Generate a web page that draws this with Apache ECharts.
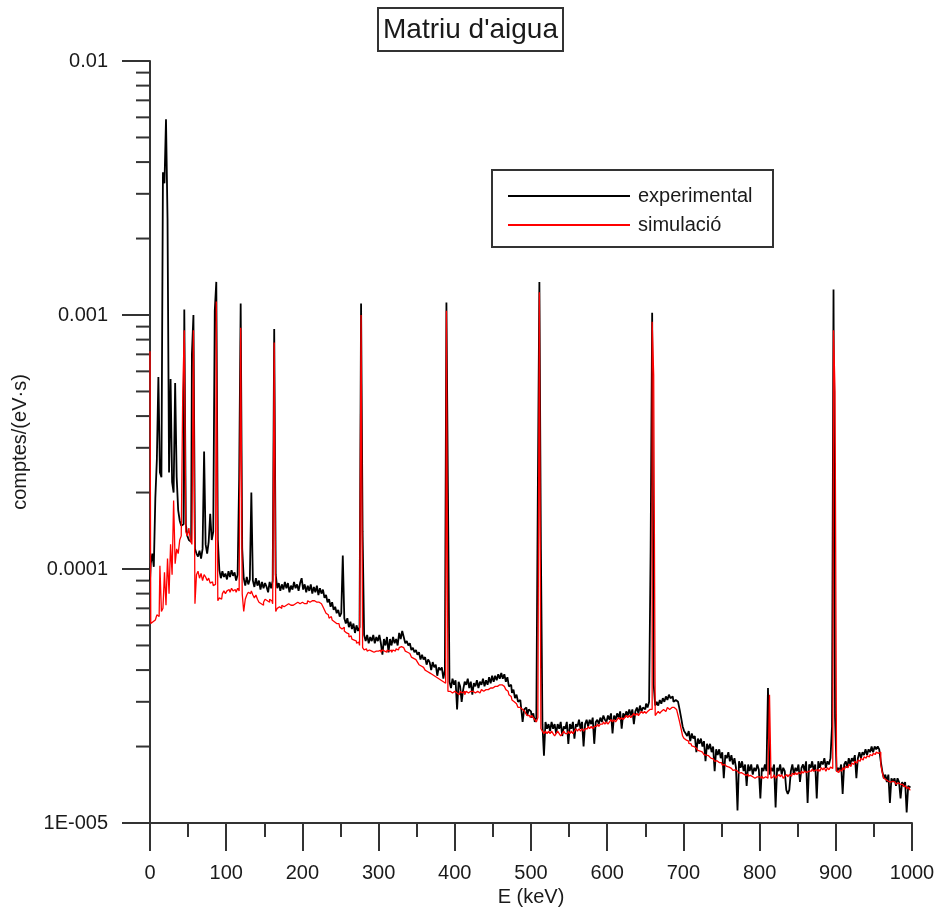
<!DOCTYPE html>
<html>
<head>
<meta charset="utf-8">
<script src="https://cdn.jsdelivr.net/npm/echarts@6/dist/echarts.min.js"></script>
<style>
  html, body { margin: 0; padding: 0; background: #ffffff; overflow: hidden; }
  #chart { width: 938px; height: 907px; }
</style>
</head>
<body>
<div id="chart"></div>
<script>
// Gamma spectrum of a water matrix: measured vs. simulated response.
// Each block covers 100 keV, one value per 2 keV channel,
// values in units of 1e-5 counts/(eV·s).
const KEV_PER_CHANNEL = 2;
const UNIT = 1e-5;

const seriesNames = ['experimental', 'simulació'];
const yTickLabels = ['1E-005', '0.0001', '0.001', '0.01'];

// measured spectrum
const exp0 = [
  9.0, 10.5, 11.5, 10.2, 19, 27, 57, 24, 23, 365,
  330, 590, 240, 24, 56, 22, 20, 54, 23, 17,
  15.5, 14.8, 15, 105, 15, 13.5, 13, 12.8, 70, 100,
  12, 11.5, 11.2, 11.8, 11, 12, 29, 12.5, 11.5, 12.8,
  16.5, 13, 14, 104, 135, 13, 9.9, 9.2, 9.8, 9.3
];
const exp1 = [
  9.6, 9.1, 9.8, 9.3, 9.9, 9.4, 9.7, 9.0, 9.5, 22.7,
  111, 12, 9.2, 8.6, 9.3, 8.7, 9.1, 20, 9.0, 8.5,
  9.2, 8.6, 9.0, 8.3, 8.9, 8.4, 8.8, 8.5, 8.1, 8.9,
  8.4, 9.0, 88, 9.5, 8.4, 8.8, 8.2, 8.7, 8.3, 8.9,
  8.4, 8.8, 8.1, 8.6, 8.3, 8.9, 8.4, 8.7, 8.2, 8.8
];
const exp2 = [
  9.2, 8.3, 8.7, 8.1, 8.6, 8.2, 8.7, 8.0, 8.5, 8.1,
  8.6, 7.9, 8.4, 8.0, 8.3, 7.7, 7.9, 7.4, 7.6, 7.1,
  7.4, 6.9, 7.1, 6.7, 6.9, 6.5, 6.7, 11.3, 6.4, 6.1,
  6.4, 5.9, 6.2, 5.8, 6.1, 5.6, 6.0, 5.7, 5.9, 111,
  14, 5.5, 5.2, 5.5, 5.1, 5.4, 5.2, 5.5, 5.1, 5.4
];
const exp3 = [
  5.2, 5.5, 5.1, 4.6, 5.3, 5.0, 5.4, 4.7, 5.3, 5.0,
  5.4, 5.1, 5.3, 5.0, 5.6, 5.3, 5.7, 5.4, 5.1, 5.2,
  5.0, 5.1, 4.8, 4.9, 4.7, 4.8, 4.6, 4.7, 4.4, 4.6,
  4.4, 4.5, 4.2, 4.4, 4.3, 4.0, 4.3, 4.1, 4.2, 3.8,
  4.1, 4.0, 4.1, 3.7, 4.0, 112, 20, 3.6, 3.4, 3.7
];
const exp4 = [
  3.5, 3.65, 2.8, 3.6, 3.45, 3.0, 3.35, 3.6, 3.5, 3.7,
  3.4, 3.6, 3.2, 3.55, 3.45, 3.65, 3.4, 3.6, 3.5, 3.7,
  3.45, 3.65, 3.5, 3.75, 3.55, 3.8, 3.6, 3.8, 3.65, 3.85,
  3.7, 3.9, 3.7, 3.85, 3.6, 3.75, 3.45, 3.5, 3.25, 3.35,
  3.1, 3.2, 3.0, 3.05, 2.85, 2.5, 2.8, 2.85, 2.65, 2.8
];
const exp5 = [
  2.75, 2.6, 2.7, 2.5, 2.6, 21, 135, 12, 2.45, 1.84,
  2.5, 2.35, 2.45, 2.3, 2.5, 2.35, 2.45, 2.25, 2.45, 2.35,
  2.5, 2.2, 2.4, 2.35, 2.5, 2.05, 2.45, 2.35, 2.5, 2.15,
  2.45, 2.4, 2.55, 2.35, 2.5, 2.0, 2.45, 2.55, 2.4, 2.55,
  2.45, 2.6, 2.05, 2.5, 2.55, 2.45, 2.6, 2.5, 2.65, 2.55
];
const exp6 = [
  2.5, 2.65, 2.55, 2.7, 2.25, 2.65, 2.55, 2.7, 2.6, 2.75,
  2.35, 2.7, 2.6, 2.75, 2.65, 2.8, 2.65, 2.8, 2.45, 2.75,
  2.85, 2.7, 2.9, 2.75, 2.85, 2.8, 2.95, 2.85, 3.0, 12,
  102, 3.5, 2.9, 3.0, 2.9, 3.05, 2.95, 3.1, 3.0, 3.15,
  3.05, 3.2, 3.1, 3.15, 3.0, 3.05, 3.0, 2.95, 2.8, 2.6
];
const exp7 = [
  2.4, 2.3, 2.25, 2.2, 2.3, 2.1, 2.25, 2.15, 2.2, 1.9,
  2.15, 2.05, 2.15, 2.0, 2.1, 1.75, 2.05, 1.95, 2.05, 1.9,
  2.0, 1.6, 1.95, 1.85, 1.95, 1.8, 1.9, 1.5, 1.85, 1.8,
  1.9, 1.75, 1.85, 1.7, 1.8, 1.65, 1.12, 1.75, 1.65, 1.75,
  1.6, 1.7, 1.4, 1.7, 1.6, 1.7, 1.55, 1.65, 1.6, 1.7
];
const exp8 = [
  1.62, 1.25, 1.65, 1.6, 1.7, 1.6, 3.4, 1.55, 1.65, 1.6,
  1.7, 1.15, 1.65, 1.6, 1.7, 1.55, 1.65, 1.6, 1.35, 1.3,
  1.35, 1.6, 1.7, 1.55, 1.65, 1.6, 1.7, 1.45, 1.65, 1.7,
  1.6, 1.75, 1.2, 1.7, 1.65, 1.75, 1.6, 1.7, 1.25, 1.75,
  1.65, 1.75, 1.7, 1.8, 1.65, 1.75, 1.7, 1.8, 2.4, 126
];
const exp9 = [
  2.6, 1.6, 1.65, 1.6, 1.7, 1.3, 1.7, 1.75, 1.65, 1.8,
  1.7, 1.8, 1.75, 1.85, 1.5, 1.8, 1.9, 1.8, 1.9, 1.85,
  1.95, 1.85, 1.95, 1.9, 2.0, 1.9, 2.0, 1.95, 2.0, 1.95,
  1.75, 1.6, 1.5, 1.55, 1.45, 1.55, 1.2, 1.5, 1.45, 1.5,
  1.4, 1.5, 1.45, 1.25, 1.45, 1.4, 1.45, 1.1, 1.4, 1.38
];

// simulated spectrum
const sim0 = [
  72, 6.1, 6.2, 6.3, 6.4, 6.6, 6.5, 10.3, 6.8, 7.0,
  9.7, 7.2, 11, 8.0, 12.5, 9.5, 18.6, 10.5, 12, 11.5,
  13, 13.5, 50, 87, 14, 13.5, 14.5, 13, 12.5, 87,
  7.3, 9.5, 9.8, 9.2, 9.6, 9.0, 9.5, 9.3, 9.0, 9.2,
  8.8, 8.9, 8.6, 8.7, 113, 7.5, 7.7, 7.6, 8.0, 8.2
];
const sim1 = [
  8.0, 8.2, 8.3, 8.1, 8.4, 8.2, 8.3, 8.1, 8.4, 8.2,
  89, 8.0, 6.8, 7.6, 7.9, 8.1, 8.0, 8.2, 7.9, 7.7,
  7.9, 7.6, 7.4, 7.3, 7.2, 7.4, 7.6, 7.5, 7.4, 7.6,
  7.5, 7.3, 78, 6.8, 7.0, 7.1, 7.0, 7.2, 7.1, 7.2,
  7.1, 7.3, 7.2, 7.3, 7.2, 7.3, 7.2, 7.4, 7.3, 7.4
];
const sim2 = [
  7.4, 7.3, 7.4, 7.3, 7.5, 7.4, 7.5, 7.4, 7.5, 7.4,
  7.5, 7.4, 7.3, 7.2, 7.1, 6.9, 6.7, 6.6, 6.4, 6.5,
  6.3, 6.2, 6.1, 6.0, 6.1, 5.9, 5.8, 5.9, 5.7, 5.6,
  5.55, 5.4, 5.45, 5.3, 5.25, 5.2, 5.1, 5.15, 5.0, 100,
  4.9, 4.8, 4.85, 4.75, 4.8, 4.75, 4.8, 4.7, 4.75, 4.8
];
const sim3 = [
  4.75, 4.8, 4.7, 4.8, 4.75, 4.7, 4.8, 4.75, 4.8, 4.7,
  4.8, 4.75, 4.85, 4.8, 4.9, 4.95, 4.9, 4.85, 4.75, 4.7,
  4.65, 4.6, 4.5, 4.45, 4.4, 4.35, 4.3, 4.2, 4.15, 4.1,
  4.05, 4.0, 3.95, 3.9, 3.88, 3.85, 3.8, 3.78, 3.75, 3.7,
  3.68, 3.65, 3.6, 3.58, 3.55, 104, 3.3, 3.3, 3.25, 3.3
];
const sim4 = [
  3.3, 3.25, 3.3, 3.2, 3.3, 3.25, 3.3, 3.2, 3.3, 3.25,
  3.3, 3.25, 3.3, 3.25, 3.3, 3.3, 3.25, 3.3, 3.35, 3.3,
  3.35, 3.3, 3.35, 3.4, 3.35, 3.4, 3.45, 3.4, 3.45, 3.5,
  3.45, 3.5, 3.45, 3.4, 3.35, 3.3, 3.2, 3.15, 3.05, 3.0,
  2.95, 2.9, 2.85, 2.85, 2.8, 2.75, 2.75, 2.7, 2.65, 2.65
];
const sim5 = [
  2.6, 2.65, 2.6, 2.55, 2.5, 2.6, 123, 2.35, 2.3, 2.25,
  2.3, 2.25, 2.3, 2.25, 2.3, 2.25, 2.2, 2.25, 2.3, 2.25,
  2.2, 2.25, 2.3, 2.25, 2.25, 2.3, 2.25, 2.3, 2.25, 2.3,
  2.35, 2.3, 2.35, 2.3, 2.35, 2.3, 2.35, 2.35, 2.4, 2.35,
  2.4, 2.35, 2.4, 2.4, 2.45, 2.4, 2.45, 2.45, 2.5, 2.45
];
const sim6 = [
  2.5, 2.45, 2.5, 2.55, 2.5, 2.55, 2.5, 2.55, 2.6, 2.55,
  2.6, 2.55, 2.6, 2.65, 2.6, 2.65, 2.6, 2.65, 2.7, 2.65,
  2.7, 2.65, 2.7, 2.75, 2.7, 2.75, 2.7, 2.75, 2.8, 2.8,
  94, 58, 2.65, 2.7, 2.75, 2.7, 2.75, 2.8, 2.75, 2.8,
  2.85, 2.8, 2.85, 2.9, 2.85, 2.8, 2.75, 2.65, 2.5, 2.35
];
const sim7 = [
  2.2, 2.15, 2.12, 2.1, 2.06, 2.05, 2.01, 2.0, 1.97, 1.96,
  1.93, 1.92, 1.9, 1.89, 1.86, 1.85, 1.84, 1.81, 1.8, 1.79,
  1.78, 1.75, 1.76, 1.73, 1.72, 1.73, 1.69, 1.7, 1.67, 1.68,
  1.66, 1.64, 1.65, 1.61, 1.62, 1.6, 1.61, 1.57, 1.58, 1.56,
  1.57, 1.54, 1.56, 1.53, 1.54, 1.52, 1.53, 1.5, 1.52, 1.5
];
const sim8 = [
  1.52, 1.5, 1.53, 1.5, 1.52, 1.5, 1.55, 3.2, 1.5, 1.52,
  1.55, 1.5, 1.53, 1.55, 1.52, 1.55, 1.5, 1.53, 1.55, 1.52,
  1.55, 1.53, 1.57, 1.55, 1.58, 1.55, 1.58, 1.56, 1.6, 1.57,
  1.6, 1.58, 1.6, 1.62, 1.6, 1.63, 1.6, 1.62, 1.6, 1.63,
  1.6, 1.65, 1.62, 1.65, 1.6, 1.65, 1.62, 1.66, 1.64, 87
];
const sim9 = [
  50, 1.6, 1.58, 1.62, 1.6, 1.65, 1.62, 1.67, 1.65, 1.7,
  1.67, 1.72, 1.7, 1.75, 1.72, 1.77, 1.75, 1.8, 1.77, 1.82,
  1.8, 1.84, 1.82, 1.86, 1.84, 1.88, 1.86, 1.9, 1.88, 1.9,
  1.7, 1.58, 1.5, 1.48, 1.46, 1.47, 1.45, 1.46, 1.44, 1.45,
  1.42, 1.44, 1.42, 1.4, 1.42, 1.39, 1.4, 1.37, 1.38, 1.35
];

// channel index -> energy (keV), stored units -> counts/(eV·s)
function toPoints(blocks) {
  return [].concat(...blocks).map((v, i) => [i * KEV_PER_CHANNEL, v * UNIT]);
}
const experimental = toPoints([exp0, exp1, exp2, exp3, exp4, exp5, exp6, exp7, exp8, exp9]);
const simulated = toPoints([sim0, sim1, sim2, sim3, sim4, sim5, sim6, sim7, sim8, sim9]);

// minor ticks of the log axis: 2..9 within each decade
const minorTickValues = [];
[1e-5, 1e-4, 1e-3].forEach(d => { for (let k = 2; k <= 9; k++) minorTickValues.push([0, k * d]); });

const FONT = 'Liberation Sans';
const TEXT = '#1a1a1a';
const AXIS = '#333333';

const chart = echarts.init(document.getElementById('chart'), null, { renderer: 'canvas', width: 938, height: 907 });
chart.setOption({
  animation: false,
  backgroundColor: '#ffffff',
  textStyle: { fontFamily: FONT },
  title: {
    text: "Matriu d'aigua",
    left: 378, top: 8,
    padding: [8, 5, 7, 5],
    borderColor: AXIS, borderWidth: 2,
    textStyle: { fontFamily: FONT, fontSize: 28, fontWeight: 'normal', color: TEXT }
  },
  legend: {
    data: seriesNames,
    orient: 'vertical',
    left: 503, top: 181,
    icon: 'rect',
    itemWidth: 122, itemHeight: 2,
    itemGap: 9,
    textStyle: { fontFamily: FONT, fontSize: 20, color: TEXT, padding: [0, 0, 0, 3] }
  },
  graphic: [{
    type: 'rect', z: 3,
    shape: { x: 492, y: 170, width: 281, height: 77 },
    style: { fill: '#ffffff', stroke: AXIS, lineWidth: 2 }
  }],
  grid: {
    left: 150, top: 61, width: 762, height: 762,
    containLabel: false, outerBoundsMode: 'none'
  },
  xAxis: {
    type: 'value', min: 0, max: 1000, interval: 100,
    name: 'E (keV)', nameLocation: 'middle', nameGap: 62,
    nameTextStyle: { fontFamily: FONT, fontSize: 20, color: TEXT },
    axisLine: { lineStyle: { color: AXIS, width: 2 } },
    axisTick: { length: 28, lineStyle: { color: AXIS, width: 2 } },
    minorTick: { show: true, splitNumber: 2, length: 14, lineStyle: { color: AXIS, width: 2 } },
    axisLabel: { margin: 40, fontFamily: FONT, fontSize: 20, color: TEXT, formatter: v => String(v) },
    splitLine: { show: false }
  },
  yAxis: {
    type: 'log', logBase: 10, min: 1e-5, max: 0.01,
    name: 'comptes/(eV·s)', nameLocation: 'middle', nameGap: 120,
    nameTextStyle: { fontFamily: FONT, fontSize: 20, color: TEXT },
    axisLine: { show: true, lineStyle: { color: AXIS, width: 2 } },
    axisTick: { show: true, length: 28, lineStyle: { color: AXIS, width: 2 } },
    axisLabel: {
      margin: 42, fontFamily: FONT, fontSize: 20, color: TEXT,
      formatter: v => yTickLabels[Math.round(Math.log10(v)) + 5]
    },
    splitLine: { show: false }
  },
  series: [
    {
      name: seriesNames[0], type: 'line', step: 'middle',
      data: experimental, showSymbol: false, symbol: 'none',
      lineStyle: { color: '#000000', width: 1.8 }, itemStyle: { color: '#000000' },
      z: 2
    },
    {
      name: seriesNames[1], type: 'line', step: 'middle',
      data: simulated, showSymbol: false, symbol: 'none',
      lineStyle: { color: '#ff0000', width: 1.3 }, itemStyle: { color: '#ff0000' },
      z: 3
    },
    {
      type: 'custom', silent: true, clip: false,
      data: minorTickValues,
      renderItem: (params, api) => {
        const p = api.coord([api.value(0), api.value(1)]);
        return {
          type: 'line',
          shape: { x1: p[0] - 14, y1: p[1], x2: p[0], y2: p[1] },
          style: { stroke: AXIS, lineWidth: 2 }
        };
      }
    }
  ]
});
</script>
</body>
</html>
